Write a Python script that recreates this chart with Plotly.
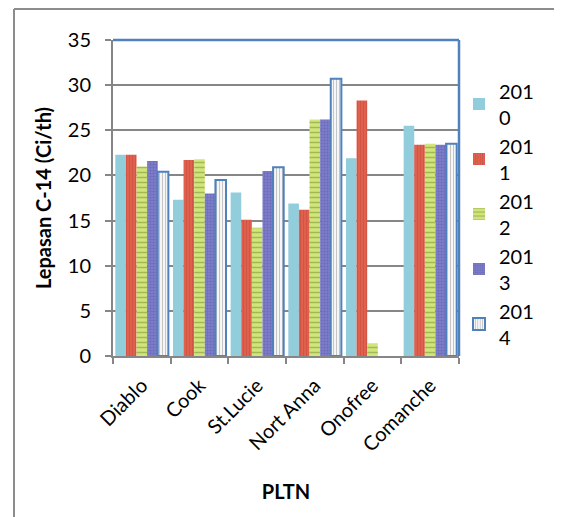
import plotly.graph_objects as go

categories = ["Diablo", "Cook", "St.Lucie", "Nort Anna", "Onofree", "Comanche"]
series_names = ["201<br>0", "201<br>1", "201<br>2", "201<br>3", "201<br>4"]
v2010 = [22.3, 17.3, 18.1, 16.9, 21.9, 25.5]
v2011 = [22.3, 21.7, 15.1, 16.2, 28.3, 23.4]
v2012 = [21.0, 21.8, 14.2, 26.2, 1.4, 23.5]
v2013 = [21.6, 18.0, 20.5, 26.2, None, 23.4]
v2014 = [20.4, 19.5, 20.9, 30.7, None, 23.5]
y_ticks = [0, 5, 10, 15, 20, 25, 30, 35]

FONT = "Lato"
FS = 20
values = [v2010, v2011, v2012, v2013, v2014]
styles = [
    dict(color="#92CDDC", line=dict(width=0)),
    dict(color="#E0604E", line=dict(width=0),
         pattern=dict(shape="|", fgcolor="#C0453A", size=3, solidity=0.3, fillmode="overlay")),
    dict(color="#D2E57A", line=dict(width=0),
         pattern=dict(shape="-", fgcolor="#6E8C32", size=5, solidity=0.3, fillmode="overlay")),
    dict(color="#8080CC", line=dict(width=0),
         pattern=dict(shape=".", fgcolor="#5A5AAA", size=3, solidity=0.5, fillmode="overlay")),
    dict(color="#FFFFFF", line=dict(width=2, color="#4F81BD"),
         pattern=dict(shape="|", fgcolor="#8C8C8C", size=3, solidity=0.45, fillmode="overlay")),
]

fig = go.Figure()
for name, vals, st in zip(series_names, values, styles):
    fig.add_trace(go.Bar(x=categories, y=vals, name=name, marker=st))

# page has an 8px body margin: compensate so plot area sits at x 113-459, y 40-356
W, H = 554, 509
L, T = 105, 32
pw, ph = 346, 316
R, B = W - L - pw, H - T - ph

fig.update_layout(
    width=W, height=H,
    margin=dict(l=L, r=R, t=T, b=B),
    paper_bgcolor="white", plot_bgcolor="white",
    barmode="group", bargap=0.08, bargroupgap=0,
    font=dict(family=FONT, size=FS, color="black"),
    showlegend=True,
    legend=dict(x=1.0, y=0.90, xanchor="left", yanchor="top",
                font=dict(family=FONT, size=FS), itemwidth=30,
                tracegroupgap=0, bgcolor="rgba(0,0,0,0)"),
    xaxis=dict(
        showline=True, linecolor="#868686", linewidth=2,
        ticks="outside", tickson="boundaries", ticklen=6, tickcolor="#868686", tickwidth=2,
        tickangle=-45, tickfont=dict(family=FONT, size=FS), ticklabelstandoff=8,
        title=dict(text="<b>PLTN</b>", font=dict(family=FONT, size=FS), standoff=30),
        showgrid=False,
    ),
    yaxis=dict(
        range=[0, 35], tickvals=y_ticks,
        showline=True, linecolor="#868686", linewidth=2,
        ticks="outside", ticklen=6, tickcolor="#868686", tickwidth=2,
        showgrid=True, gridcolor="#868686", gridwidth=2,
        tickfont=dict(family=FONT, size=FS), ticklabelstandoff=10,
        title=dict(text="<b>Lepasan C-14 (Ci/th)</b>", font=dict(family=FONT, size=FS), standoff=11),
        zeroline=False,
    ),
)

# plot area top/right border (blue)
fig.add_shape(type="line", xref="paper", yref="paper", x0=0, x1=1, y0=1, y1=1,
              line=dict(color="#4F81BD", width=2.5))
fig.add_shape(type="line", xref="paper", yref="paper", x0=1, x1=1, y0=0, y1=1,
              line=dict(color="#4F81BD", width=2.5))
# outer chart border (top and left)
top_y = (H - B - 1) / ph
left_x = (6 - L) / pw
fig.add_shape(type="line", xref="paper", yref="paper", x0=left_x, x1=(W - L) / pw + 0.05,
              y0=top_y, y1=top_y, line=dict(color="#8C8C8C", width=2))
fig.add_shape(type="line", xref="paper", yref="paper", x0=left_x, x1=left_x,
              y0=-(B + 5) / ph, y1=top_y, line=dict(color="#8C8C8C", width=2))

fig.write_html("out.html")
